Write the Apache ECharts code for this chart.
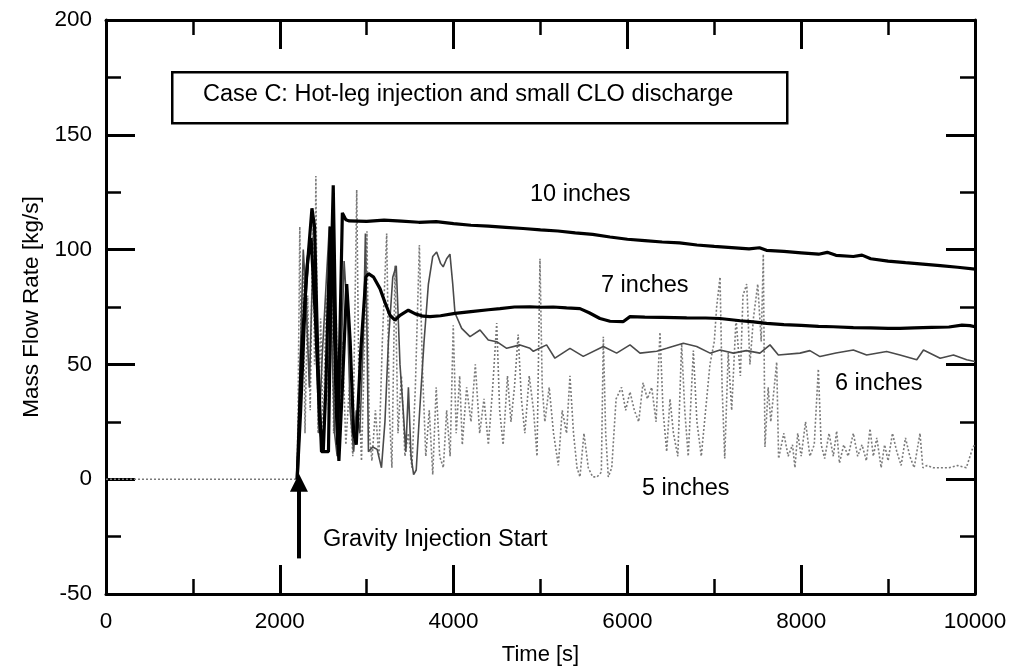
<!DOCTYPE html>
<html>
<head>
<meta charset="utf-8">
<script src="https://cdn.jsdelivr.net/npm/echarts@6/dist/echarts.min.js"></script>
<style>html,body{margin:0;padding:0;background:#fff}#c{width:1016px;height:671px}</style>
</head>
<body>
<div id="c"></div>
<script>
const FONT = '"Liberation Sans", Arial, sans-serif';
const xTicks = [0, 2000, 4000, 6000, 8000, 10000];
const yTicks = [-50, 0, 50, 100, 150, 200];

const s10 = [[2200,0],[2240,30],[2300,85],[2370,118],[2400,110],[2440,50],[2480,12],[2560,12],[2590,90],[2615,128],[2640,70],[2665,15],[2690,60],[2720,116],[2760,113],[2800,112.5],[3000,112.3],[3200,112.8],[3400,112.4],[3600,111.9],[3800,112.2],[4000,111.3],[4200,110.6],[4400,110.2],[4600,109.7],[4800,109.2],[5000,108.6],[5200,108.1],[5400,107.3],[5600,106.6],[5800,105.5],[6000,104.5],[6200,103.9],[6400,103.3],[6600,102.9],[6800,102.0],[7000,101.4],[7200,100.9],[7400,100.3],[7520,100.8],[7600,99.7],[7800,99.2],[8000,98.6],[8200,98.0],[8300,98.8],[8400,97.5],[8600,97.0],[8700,97.6],[8800,96.0],[9000,95.0],[9200,94.3],[9400,93.7],[9600,93.0],[9800,92.3],[10000,91.5]];

const s7 = [[2200,0],[2250,55],[2320,95],[2360,105],[2410,70],[2460,25],[2500,12],[2530,40],[2580,110],[2610,95],[2650,30],[2680,8],[2720,40],[2770,85],[2810,60],[2850,20],[2880,15],[2930,55],[2990,88],[3020,89.5],[3080,88],[3153,83],[3210,77],[3268,71.4],[3325,69.3],[3383,71.4],[3479,73.6],[3560,72],[3650,71],[3728,70.8],[3850,71.2],[4016,72.2],[4200,73],[4400,73.8],[4534,74.3],[4700,75],[4879,75.1],[5000,74.9],[5146,75],[5300,74.6],[5454,74.3],[5560,72.5],[5684,70],[5800,68.8],[5950,68.6],[6030,70.8],[6200,70.6],[6400,70.5],[6682,70.3],[6900,70.2],[7066,70],[7300,69],[7450,68.5],[7602,67.9],[7800,67.3],[8000,67],[8200,66.6],[8368,66.4],[8600,66],[8800,65.9],[9000,65.7],[9137,65.7],[9300,65.9],[9500,66.1],[9700,66.3],[9850,67.1],[9942,66.9],[10000,66.4]];

const s6 = [[2200,0],[2230,45],[2270,100],[2300,80],[2340,40],[2380,95],[2420,60],[2450,20],[2490,55],[2540,90],[2570,110],[2600,60],[2630,20],[2660,10],[2700,45],[2740,95],[2780,70],[2810,30],[2850,12],[2880,30],[2920,20],[2960,60],[2985,107],[3005,60],[3020,12],[3070,14],[3120,13],[3170,5],[3210,25],[3250,60],[3300,88],[3340,93],[3383,50],[3420,30],[3450,12],[3480,40],[3510,10],[3540,2],[3570,4],[3610,30],[3660,60],[3710,85],[3760,97],[3805,99],[3850,94],[3880,92.5],[3920,96],[3958,98],[3990,85],[4016,72.4],[4036,72],[4093,65.7],[4189,62.1],[4304,65],[4399,60.6],[4496,59.9],[4611,57],[4764,58.5],[4879,57],[4918,55.7],[5070,58.5],[5166,52.7],[5339,57],[5492,53.5],[5723,57.8],[5876,54.9],[6030,58.5],[6145,54.9],[6337,55.7],[6452,57],[6644,59.2],[6797,57.8],[6951,54.9],[7066,56.3],[7219,54.9],[7370,56],[7525,54.9],[7641,58.5],[7737,54.1],[7986,54.9],[8100,56],[8216,53.4],[8400,55],[8600,56.3],[8753,54.1],[8983,55.6],[9137,54.1],[9330,52],[9407,56.3],[9599,52.7],[9752,54.1],[9904,52],[10000,51.3]];

const s5 = [[0,0],[2200,0],[2210,30],[2230,110],[2250,40],[2270,90],[2290,20],[2320,80],[2350,30],[2380,115],[2400,50],[2415,132],[2440,20],[2470,70],[2500,15],[2530,80],[2560,30],[2590,100],[2620,20],[2650,70],[2680,10],[2720,60],[2760,15],[2800,40],[2840,10],[2885,126],[2910,40],[2940,8],[2970,50],[3003,108],[3030,20],[3060,8],[3100,30],[3140,10],[3180,60],[3230,107],[3260,30],[3290,5],[3326,93],[3360,20],[3400,45],[3440,10],[3480,20],[3520,5],[3560,40],[3606,102],[3640,50],[3680,10],[3720,30],[3760,2],[3800,40],[3840,10],[3882,5],[3920,30],[3960,10],[3996,67],[4030,20],[4070,45],[4100,15],[4150,40],[4200,25],[4250,50],[4300,20],[4350,35],[4400,15],[4450,40],[4496,68],[4530,30],[4570,15],[4620,45],[4660,25],[4700,40],[4743,63],[4780,35],[4820,20],[4870,45],[4920,30],[4960,10],[4994,96],[5020,40],[5050,25],[5100,40],[5150,20],[5205,6],[5250,30],[5300,20],[5339,45],[5380,20],[5420,5],[5454,1],[5500,20],[5550,5],[5600,1],[5650,1],[5700,3],[5723,62],[5750,20],[5780,1],[5820,5],[5870,35],[5933,40],[5980,30],[6030,38],[6080,30],[6130,25],[6180,42],[6230,35],[6280,40],[6330,25],[6375,64],[6410,30],[6452,12],[6490,35],[6530,20],[6580,10],[6624,59],[6660,30],[6700,10],[6759,56],[6800,25],[6850,10],[6900,30],[6950,50],[7000,60],[7027,75],[7066,88],[7090,40],[7120,9],[7160,55],[7200,30],[7250,70],[7300,45],[7330,80],[7373,85],[7410,50],[7450,70],[7500,85],[7540,60],[7564,98],[7583,14],[7620,40],[7650,25],[7718,51],[7740,9],[7800,20],[7850,10],[7900,15],[7928,5],[7960,20],[8000,10],[8050,25],[8100,10],[8150,15],[8197,48],[8230,15],[8270,9],[8320,20],[8370,10],[8408,21],[8440,7],[8490,15],[8540,10],[8600,20],[8650,10],[8700,15],[8750,8],[8792,22],[8830,10],[8870,18],[8920,5],[8960,15],[9000,8],[9050,20],[9100,12],[9150,6],[9200,18],[9250,10],[9300,5],[9367,20],[9400,5],[9450,6],[9520,5],[9600,5],[9700,5],[9800,6],[9900,5],[9977,14],[10000,15]];

const arrowX = 2220, arrowFrom = -34.5, arrowTo = -1.5;

const labelStyle = {fontFamily: FONT, fontSize: 23.5, fill: '#000'};

function mkX(pos, show) {
  return {
    type: 'value', min: 0, max: 10000, interval: 2000, position: pos,
    axisLine: {show: true, onZero: false, lineStyle: {color: '#000', width: 3}},
    axisTick: {show: true, inside: true, length: 29, lineStyle: {color: '#000', width: 3}},
    minorTick: {show: true, splitNumber: 2, length: 15, lineStyle: {color: '#000', width: 2.5}},
    axisLabel: {show: show, color: '#000', fontFamily: FONT, fontSize: 22.5, margin: 16,
      formatter: v => String(v)},
    splitLine: {show: false}, minorSplitLine: {show: false},
    name: show ? 'Time [s]' : '', nameLocation: 'middle', nameGap: 50,
    nameTextStyle: {color: '#000', fontFamily: FONT, fontSize: 22}
  };
}
function mkY(pos, show) {
  return {
    type: 'value', min: -50, max: 200, interval: 50, position: pos,
    axisLine: {show: true, onZero: false, lineStyle: {color: '#000', width: 3}},
    axisTick: {show: true, inside: true, length: 29, lineStyle: {color: '#000', width: 3}},
    minorTick: {show: true, splitNumber: 2, length: 15, lineStyle: {color: '#000', width: 2.5}},
    axisLabel: {show: show, color: '#000', fontFamily: FONT, fontSize: 22.5, margin: 14,
      formatter: v => String(v)},
    splitLine: {show: false}, minorSplitLine: {show: false},
    name: show ? 'Mass Flow Rate [kg/s]' : '', nameLocation: 'middle', nameGap: 62,
    nameTextStyle: {color: '#000', fontFamily: FONT, fontSize: 22.5}
  };
}

const chart = echarts.init(document.getElementById('c'), null, {renderer: 'canvas'});
chart.setOption({
  animation: false,
  backgroundColor: '#fff',
  grid: {left: 106, right: 41, top: 20, bottom: 74, containLabel: false},
  xAxis: [mkX('bottom', true), mkX('top', false)],
  yAxis: [mkY('left', true), mkY('right', false)],
  series: [
    {name: '5 inches', type: 'line', data: s5, showSymbol: false, z: 2,
     lineStyle: {color: '#7a7a7a', width: 1.6, type: [2, 2]},
     markLine: {silent: true, symbol: ['none', 'triangle'], symbolSize: [18, 18],
       label: {show: false}, lineStyle: {color: '#000', width: 4, type: 'solid'},
       data: [[{coord: [arrowX, arrowFrom]}, {coord: [arrowX, arrowTo]}]]}},
    {name: '6 inches', type: 'line', data: s6, showSymbol: false, z: 3,
     lineStyle: {color: '#4a4a4a', width: 1.6}},
    {name: '7 inches', type: 'line', data: s7, showSymbol: false, z: 4,
     lineStyle: {color: '#000', width: 3.2}},
    {name: '10 inches', type: 'line', data: s10, showSymbol: false, z: 5,
     lineStyle: {color: '#000', width: 3.2}}
  ],
  graphic: [
    {type: 'rect', left: 171, top: 71, shape: {width: 615, height: 51},
     style: {fill: '#fff', stroke: '#000', lineWidth: 2.5}, z: 10},
    {type: 'text', left: 203, top: 83, z: 11,
     style: Object.assign({text: 'Case C: Hot-leg injection and small CLO discharge'}, labelStyle)},
    {type: 'text', left: 530, top: 183, style: Object.assign({text: '10 inches'}, labelStyle), z: 11},
    {type: 'text', left: 601, top: 274, style: Object.assign({text: '7 inches'}, labelStyle), z: 11},
    {type: 'text', left: 835, top: 372, style: Object.assign({text: '6 inches'}, labelStyle), z: 11},
    {type: 'text', left: 642, top: 477, style: Object.assign({text: '5 inches'}, labelStyle), z: 11},
    {type: 'text', left: 323, top: 528, style: Object.assign({text: 'Gravity Injection Start'}, labelStyle), z: 11}
  ]
});
</script>
</body>
</html>
